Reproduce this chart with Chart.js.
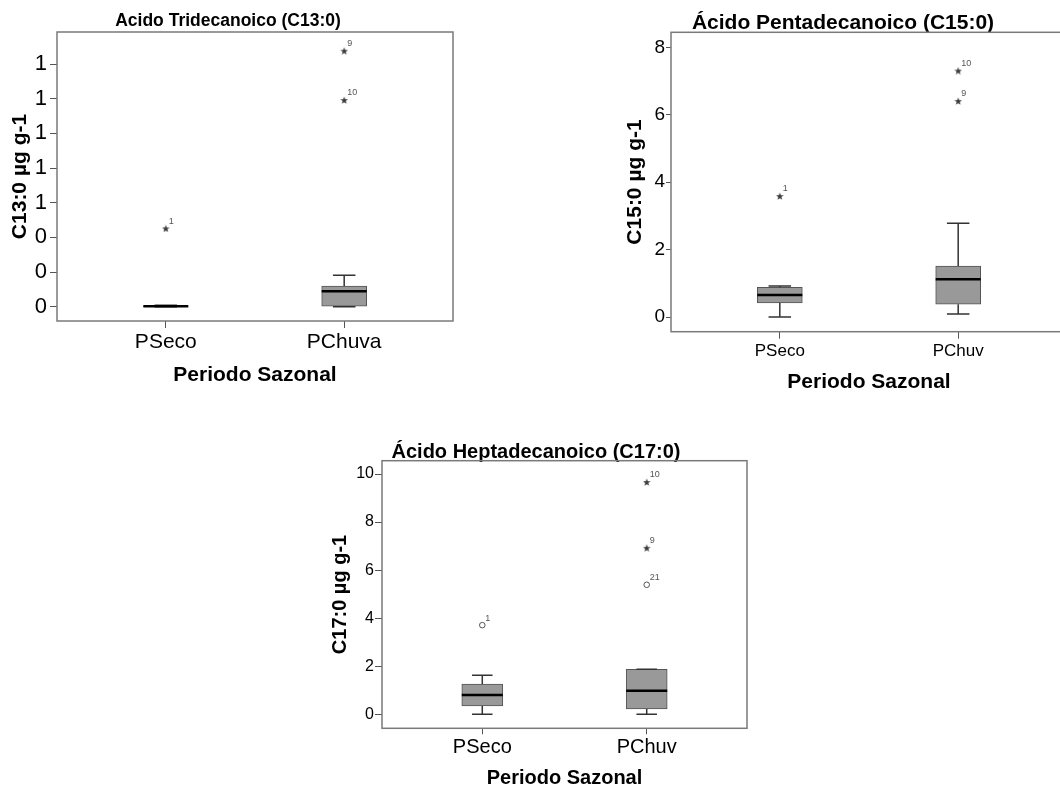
<!DOCTYPE html>
<html>
<head>
<meta charset="utf-8">
<title>Ácidos graxos por período sazonal</title>
<script src="https://cdn.jsdelivr.net/npm/chart.js@4.4.1/dist/chart.umd.min.js"></script>
<style>
  html, body { margin: 0; padding: 0; background: #fff; overflow: hidden; }
  body { width: 1060px; height: 789px; position: relative; }
  canvas { position: absolute; }
</style>
</head>
<body>
<canvas id="c13" width="458" height="395" style="left:0;top:0"></canvas>
<canvas id="c15" width="456" height="400" style="left:616px;top:0"></canvas>
<canvas id="c17" width="430" height="359" style="left:322px;top:430px"></canvas>
<script>
const FONT = "'Liberation Sans', Arial, Helvetica, sans-serif";

// C13:0 - Acido Tridecanoico
const categoriesC13 = ['PSeco', 'PChuva'];
const minC13 = [0, 0];
const q1C13 = [0, 0.003];
const medianC13 = [0.002, 0.089];
const q3C13 = [0.004, 0.119];
const maxC13 = [0.008, 0.181];
const outlierGroupC13 = ['PSeco', 'PChuva', 'PChuva'];
const outlierValueC13 = [0.452, 1.477, 1.193];
const outlierCaseC13 = ['1', '9', '10'];
const outlierKindC13 = ['extreme', 'extreme', 'extreme'];
const ticksC13 = [0, 0.2, 0.4, 0.6, 0.8, 1.0, 1.2, 1.4];

// C15:0 - Ácido Pentadecanoico
const categoriesC15 = ['PSeco', 'PChuv'];
const minC15 = [0, 0.09];
const q1C15 = [0.42, 0.38];
const medianC15 = [0.65, 1.12];
const q3C15 = [0.88, 1.51];
const maxC15 = [0.92, 2.78];
const outlierGroupC15 = ['PSeco', 'PChuv', 'PChuv'];
const outlierValueC15 = [3.59, 7.31, 6.41];
const outlierCaseC15 = ['1', '10', '9'];
const outlierKindC15 = ['extreme', 'extreme', 'extreme'];
const ticksC15 = [0, 2, 4, 6, 8];

// C17:0 - Ácido Heptadecanoico
const categoriesC17 = ['PSeco', 'PChuv'];
const minC17 = [0, 0];
const q1C17 = [0.35, 0.22];
const medianC17 = [0.80, 0.98];
const q3C17 = [1.26, 1.87];
const maxC17 = [1.62, 1.87];
const outlierGroupC17 = ['PSeco', 'PChuv', 'PChuv', 'PChuv'];
const outlierValueC17 = [3.71, 9.67, 6.93, 5.39];
const outlierCaseC17 = ['1', '10', '9', '21'];
const outlierKindC17 = ['outlier', 'extreme', 'extreme', 'outlier'];
const ticksC17 = [0, 2, 4, 6, 8, 10];

// small filled five-point star used for extreme values
function starSprite(size, color) {
  const c = document.createElement('canvas');
  c.width = c.height = size;
  const g = c.getContext('2d');
  const r = size / 2, ri = r * 0.42;
  g.beginPath();
  for (let k = 0; k < 10; k++) {
    const rad = k % 2 ? ri : r;
    const a = -Math.PI / 2 + k * Math.PI / 5;
    g.lineTo(r + rad * Math.cos(a), r + rad * Math.sin(a) + 0.5);
  }
  g.closePath();
  g.fillStyle = color;
  g.fill();
  return c;
}
const STAR = starSprite(8, '#3c3c3c');

// whiskers, medians, frame and case numbers
function boxPlotPlugin(d, L) {
  return {
    id: 'boxPlot',
    afterDatasetsDraw(chart) {
      const { ctx, chartArea: a, scales: { x, y } } = chart;
      const half = L.boxWidth / 2;
      const cap = L.boxWidth / 4;
      ctx.save();
      d.median.forEach((m, i) => {
        const px = x.getPixelForValue(i + 1);
        ctx.strokeStyle = '#333';
        ctx.lineWidth = 1.5;
        ctx.beginPath();
        ctx.moveTo(px, y.getPixelForValue(d.q3[i]));
        ctx.lineTo(px, y.getPixelForValue(d.max[i]));
        ctx.moveTo(px, y.getPixelForValue(d.q1[i]));
        ctx.lineTo(px, y.getPixelForValue(d.min[i]));
        ctx.moveTo(px - cap, y.getPixelForValue(d.max[i]));
        ctx.lineTo(px + cap, y.getPixelForValue(d.max[i]));
        ctx.moveTo(px - cap, y.getPixelForValue(d.min[i]));
        ctx.lineTo(px + cap, y.getPixelForValue(d.min[i]));
        ctx.stroke();

        ctx.strokeStyle = '#000';
        ctx.lineWidth = 2.5;
        ctx.beginPath();
        ctx.moveTo(px - half, y.getPixelForValue(m));
        ctx.lineTo(px + half, y.getPixelForValue(m));
        ctx.stroke();
      });

      ctx.strokeStyle = '#7a7a7a';
      ctx.lineWidth = 1.5;
      ctx.strokeRect(a.left, a.top, a.right - a.left, a.bottom - a.top);

      ctx.fillStyle = '#555';
      ctx.font = '9px ' + FONT;
      ctx.textAlign = 'left';
      ctx.textBaseline = 'middle';
      chart.getDatasetMeta(1).data.forEach((pt, j) => {
        ctx.fillText(d.outlierCase[j], pt.x + 3, pt.y - 7);
      });
      ctx.restore();
    }
  };
}

function boxChart(id, d, L) {
  const cats = d.categories;
  return new Chart(document.getElementById(id), {
    type: 'bar',
    data: {
      datasets: [
        {
          type: 'bar',
          data: cats.map((c, i) => ({ x: i + 1, y: [d.q1[i], d.q3[i]] })),
          backgroundColor: '#999999',
          borderColor: '#555',
          borderWidth: 1,
          borderSkipped: false,
          barThickness: L.boxWidth
        },
        {
          type: 'scatter',
          data: d.outlierValue.map((v, j) => ({ x: cats.indexOf(d.outlierGroup[j]) + 1, y: v })),
          pointStyle: ctx => d.outlierKind[ctx.dataIndex] === 'extreme' ? STAR : 'circle',
          pointRadius: 2.8,
          borderColor: '#555',
          backgroundColor: '#fff',
          borderWidth: 1
        }
      ]
    },
    options: {
      responsive: false,
      animation: false,
      layout: { padding: { left: 0, right: L.padRight, top: 0, bottom: 0 } },
      plugins: {
        legend: { display: false },
        tooltip: { enabled: false },
        title: {
          display: true,
          text: d.title,
          color: '#000',
          font: { family: FONT, size: L.titleSize, weight: 'bold', lineHeight: L.titleLH },
          padding: { top: L.titleTop, bottom: L.titleBottom }
        }
      },
      scales: {
        x: {
          type: 'linear',
          min: 0.39,
          max: 2.61,
          bounds: 'data',
          offset: false,
          afterBuildTicks: sc => { sc.ticks = cats.map((c, i) => ({ value: i + 1 })); },
          afterFit: sc => { sc.height = L.xAxisHeight; },
          grid: { offset: false, drawOnChartArea: false, drawTicks: true, tickLength: L.xTickLen, color: '#555' },
          border: { display: false },
          ticks: {
            autoSkip: false,
            maxRotation: 0,
            padding: L.xTickPad,
            color: '#000',
            font: { family: FONT, size: L.xTickSize },
            callback: v => cats[v - 1]
          },
          title: {
            display: true,
            text: 'Periodo Sazonal',
            color: '#000',
            font: { family: FONT, size: L.xTitleSize, weight: 'bold', lineHeight: 1 },
            padding: { top: 0, bottom: L.xTitlePad }
          }
        },
        y: {
          type: 'linear',
          min: L.yMin,
          max: L.yMax,
          bounds: 'data',
          afterBuildTicks: sc => { sc.ticks = d.yTicks.map(v => ({ value: v })); },
          afterFit: sc => { sc.width = L.yAxisWidth; },
          grid: { drawOnChartArea: false, drawTicks: true, tickLength: L.yTickLen, color: '#555' },
          border: { display: false },
          ticks: {
            padding: L.yTickPad,
            color: '#000',
            font: { family: FONT, size: L.yTickSize },
            callback: L.yFormat
          },
          title: {
            display: true,
            text: d.yTitle,
            color: '#000',
            font: { family: FONT, size: L.yTitleSize, weight: 'bold', lineHeight: 1 },
            padding: { top: L.yTitlePad, bottom: 0 }
          }
        }
      }
    },
    plugins: [boxPlotPlugin(d, L)]
  });
}

boxChart('c13', {
  title: 'Acido Tridecanoico (C13:0)', yTitle: 'C13:0 µg g-1',
  categories: categoriesC13, min: minC13, q1: q1C13, median: medianC13, q3: q3C13, max: maxC13,
  outlierGroup: outlierGroupC13, outlierValue: outlierValueC13, outlierCase: outlierCaseC13,
  outlierKind: outlierKindC13, yTicks: ticksC13
}, {
  yMin: -0.0825, yMax: 1.585, yFormat: v => String(Math.round(v)),
  padRight: 2, yAxisWidth: 57, xAxisHeight: 74, boxWidth: 45,
  titleSize: 17.5, titleLH: 1, titleTop: 12, titleBottom: 2.5,
  yTickSize: 22, yTickLen: 7, yTickPad: 3, xTickSize: 21, xTickLen: 7, xTickPad: 2,
  yTitleSize: 21, yTitlePad: 10, xTitleSize: 21, xTitlePad: 9
});

boxChart('c15', {
  title: 'Ácido Pentadecanoico (C15:0)', yTitle: 'C15:0 µg g-1',
  categories: categoriesC15, min: minC15, q1: q1C15, median: medianC15, q3: q3C15, max: maxC15,
  outlierGroup: outlierGroupC15, outlierValue: outlierValueC15, outlierCase: outlierCaseC15,
  outlierKind: outlierKindC15, yTicks: ticksC15
}, {
  yMin: -0.436, yMax: 8.445, yFormat: v => String(v),
  padRight: 2, yAxisWidth: 55, xAxisHeight: 68.3, boxWidth: 45,
  titleSize: 21, titleLH: 0.8, titleTop: 15, titleBottom: 0.5,
  yTickSize: 19, yTickLen: 5, yTickPad: 1, xTickSize: 17, xTickLen: 7, xTickPad: 2,
  yTitleSize: 21, yTitlePad: 8.5, xTitleSize: 21, xTitlePad: 7.5
});

boxChart('c17', {
  title: 'Ácido Heptadecanoico (C17:0)', yTitle: 'C17:0 µg g-1',
  categories: categoriesC17, min: minC17, q1: q1C17, median: medianC17, q3: q3C17, max: maxC17,
  outlierGroup: outlierGroupC17, outlierValue: outlierValueC17, outlierCase: outlierCaseC17,
  outlierKind: outlierKindC17, yTicks: ticksC17
}, {
  yMin: -0.583, yMax: 10.554, yFormat: v => String(v),
  padRight: 2, yAxisWidth: 60, xAxisHeight: 60.7, boxWidth: 41,
  titleSize: 20, titleLH: 0.8, titleTop: 14, titleBottom: 0.7,
  yTickSize: 16, yTickLen: 7, yTickPad: 1, xTickSize: 20, xTickLen: 6, xTickPad: 1,
  yTitleSize: 20, yTitlePad: 8, xTitleSize: 20, xTitlePad: 0.7
});
</script>
</body>
</html>
